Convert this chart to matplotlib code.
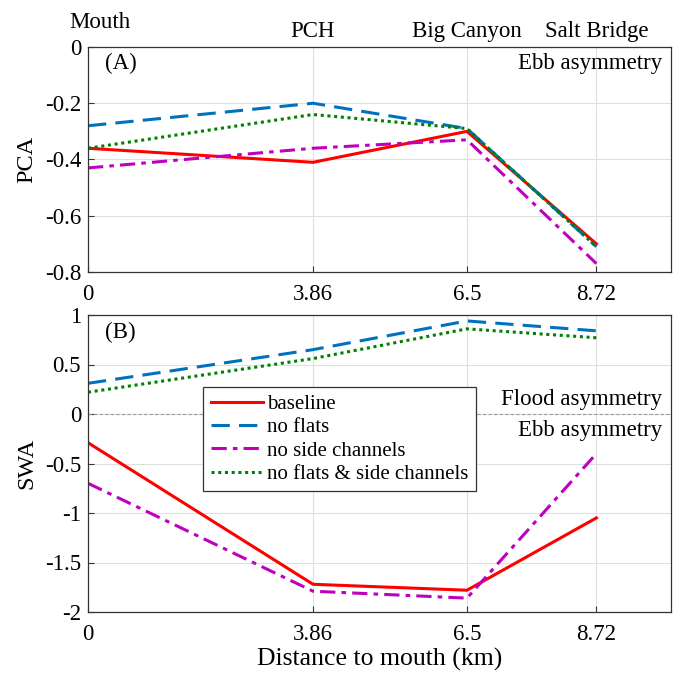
import matplotlib.pyplot as plt

plt.rcParams['font.family'] = ['Liberation Serif', 'DejaVu Serif']
plt.rcParams['font.size'] = 16.5

dist = [0, 3.86, 6.5, 8.72]
sites = ['Mouth', 'PCH', 'Big Canyon', 'Salt Bridge']
labels = ['baseline', 'no flats', 'no side channels', 'no flats & side channels']

pca_baseline = [-0.36, -0.41, -0.30, -0.70]
pca_noflats = [-0.28, -0.20, -0.29, -0.71]
pca_noside = [-0.43, -0.36, -0.33, -0.77]
pca_noboth = [-0.36, -0.24, -0.29, -0.71]

swa_baseline = [-0.29, -1.72, -1.78, -1.05]
swa_noflats = [0.31, 0.65, 0.94, 0.84]
swa_noside = [-0.70, -1.79, -1.86, -0.40]
swa_noboth = [0.22, 0.56, 0.86, 0.77]

colors = ['#ff0000', '#0072bd', '#bf00bf', '#008000']
styles = ['-', (0, (6, 3)), (0, (5, 2, 1.5, 2)), (0, (1, 1.2))]

fig = plt.figure(figsize=(6.78, 6.74), dpi=100)
ax1 = fig.add_axes([88/678, 1 - 272/674, 583/678, 225/674])
ax2 = fig.add_axes([88/678, 1 - 612/674, 583/678, 297/674])

for ax, series in [(ax1, [pca_baseline, pca_noflats, pca_noside, pca_noboth]),
                   (ax2, [swa_baseline, swa_noflats, swa_noside, swa_noboth])]:
    for y, c, ls, lab in zip(series, colors, styles, labels):
        ax.plot(dist, y, color=c, linestyle=ls, linewidth=2.2, label=lab)
    ax.set_xlim(0, 10)
    ax.set_xticks(dist)
    ax.set_xticklabels(['0', '3.86', '6.5', '8.72'])
    ax.grid(True, color='#e0e0e0', linewidth=0.8)
    ax.set_axisbelow(True)
    ax.tick_params(direction='in', length=4, color='#333333')
    ax.tick_params(axis='x', pad=9)
    ax.tick_params(axis='y', pad=5)
    for s in ax.spines.values():
        s.set_color('#333333')
        s.set_linewidth(0.9)

ax1.set_ylim(-0.8, 0)
ax1.set_yticks([-0.8, -0.6, -0.4, -0.2, 0])
ax1.set_yticklabels(['-0.8', '-0.6', '-0.4', '-0.2', '0'])
ax1.set_ylabel('PCA', fontsize=17.5, labelpad=5)
ax1.text(0.3, -0.02, '(A)', va='top', ha='left')
ax1.text(9.85, -0.02, 'Ebb asymmetry', va='top', ha='right')
for xd, s in zip(dist, sites):
    if s == 'Mouth':
        ax1.text(xd + 0.2, 0.05, s, ha='center', va='bottom', clip_on=False)
    else:
        ax1.text(xd, 0.018, s, ha='center', va='bottom', clip_on=False)

ax2.set_ylim(-2, 1)
ax2.set_yticks([-2, -1.5, -1, -0.5, 0, 0.5, 1])
ax2.set_yticklabels(['-2', '-1.5', '-1', '-0.5', '0', '0.5', '1'])
ax2.set_ylabel('SWA', fontsize=17.5, labelpad=5)
ax2.set_xlabel('Distance to mouth (km)', fontsize=18.5, labelpad=2)
ax2.axhline(0, color='#999999', linestyle='--', linewidth=0.8, dashes=(3, 2), zorder=1.5)
ax2.text(0.3, 0.93, '(B)', va='top', ha='left')
ax2.text(9.85, 0.04, 'Flood asymmetry', va='bottom', ha='right')
ax2.text(9.85, -0.06, 'Ebb asymmetry', va='top', ha='right')
leg = ax2.legend(loc='upper left', bbox_to_anchor=(0.198, 0.757), fontsize=15,
                 frameon=True, fancybox=False, framealpha=1, edgecolor='#333333',
                 handlelength=2.5, handletextpad=0.2, borderpad=0.35, labelspacing=0.18,
                 borderaxespad=0)
leg.get_frame().set_linewidth(0.9)

fig.savefig('out.png', dpi=100)
